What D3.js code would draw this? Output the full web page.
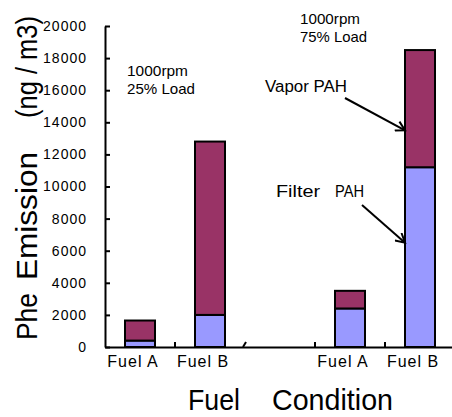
<!DOCTYPE html>
<html>
<head>
<meta charset="utf-8">
<script src="https://cdn.jsdelivr.net/npm/d3@7"></script>
<style>
  body { margin: 0; background: #fff; }
  text { font-family: "Liberation Sans", Arial, sans-serif; fill: #000; }
</style>
</head>
<body>
<svg id="chart" width="452" height="417"></svg>
<script>
// data
const slotIds = ["A25", "B25", "gap", "A75", "B75"]
const slotLabels = ["Fuel A", "Fuel B", "", "Fuel A", "Fuel B"]
const filterPAH = [400, 2000, 0, 2400, 11200]
const vaporPAH = [1250, 10800, 0, 1100, 7300]
const yTicks = [0, 2000, 4000, 6000, 8000, 10000, 12000, 14000, 16000, 18000, 20000]
const seriesKeys = ["filter", "vapor"]
const seriesColors = { filter: "#9999ff", vapor: "#993366" }

let svg = d3.select("#chart")

let x = d3.scaleBand()
    .domain(slotIds)
    .range([105, 455])

let y = d3.scaleLinear()
    .domain([0, 20000])
    .range([347, 26])

let barW = 30

let rows = slotIds.map((id, i) => ({ id: id, filter: filterPAH[i], vapor: vaporPAH[i] }))
let stacked = d3.stack().keys(seriesKeys)(rows)

// bars
svg.append("g")
  .selectAll("g")
  .data(stacked)
  .join("g")
  .style("fill", d => seriesColors[d.key])
  .selectAll("rect")
  .data(d => d.filter(p => p[1] > p[0]))
  .join("rect")
  .attr("x", d => x(d.data.id) + (x.bandwidth() - barW) / 2)
  .attr("y", d => y(d[1]))
  .attr("width", barW)
  .attr("height", d => y(d[0]) - y(d[1]))
  .style("stroke", "#000")
  .style("stroke-width", "2px")

// y axis
let yAxis = svg.append("g")
  .attr("transform", "translate(105,0)")
  .call(d3.axisLeft(y)
    .tickValues(yTicks)
    .tickSizeInner(-5)
    .tickSizeOuter(0)
    .tickPadding(18)
    .tickFormat(d3.format("d")))
yAxis.select(".domain").style("stroke-width", "2px")
yAxis.selectAll(".tick line").style("stroke-width", "2px")
yAxis.selectAll("text")
  .style("font-size", "14px")
  .style("letter-spacing", "1px")
  .style("font-family", "'Liberation Sans', Arial, sans-serif")

// x axis
let xAxis = svg.append("g")
  .attr("transform", `translate(0,${y(0)})`)
  .call(d3.axisBottom(x)
    .tickSize(0)
    .tickSizeOuter(0)
    .tickPadding(9)
    .tickFormat((d, i) => slotLabels[i]))
xAxis.select(".domain").style("stroke-width", "2px")
xAxis.selectAll("text")
  .attr("dx", -7)
  .style("font-size", "16px")
  .style("letter-spacing", "1px")
  .style("font-family", "'Liberation Sans', Arial, sans-serif")

// boundary ticks between slots, the one at the gap is a slash
slotIds.slice(1).forEach(id => {
  let bx = x(id)
  if (id === "gap") {
    svg.append("line")
      .attr("x1", bx - 2).attr("y1", y(0))
      .attr("x2", bx + 1).attr("y2", y(0) - 5)
      .style("stroke", "#000").style("stroke-width", "2px")
  } else {
    svg.append("line")
      .attr("x1", bx).attr("y1", y(0))
      .attr("x2", bx).attr("y2", y(0) - 5)
      .style("stroke", "#000").style("stroke-width", "2px")
  }
})

// text helper: width fixed to match the narrow lettering of the original
function label(parent, str, px, py, size, len) {
  return parent.append("text")
    .attr("x", px)
    .attr("y", py)
    .attr("textLength", len)
    .attr("lengthAdjust", "spacingAndGlyphs")
    .style("font-size", size + "px")
    .text(str)
}

// y axis title
let yTitle = svg.append("g").attr("transform", "translate(37,0) rotate(-90)")
label(yTitle, "Phe", -340, 0, 30, 47)
label(yTitle, "Emission", -280, 0, 30, 128)
label(yTitle, "(ng / m3)", -118, 0, 30, 102)

// x axis title
label(svg, "Fuel", 188, 410, 30, 52)
label(svg, "Condition", 272, 410, 30, 121)

// condition notes
label(svg, "1000rpm", 127, 76, 15, 61)
label(svg, "25% Load", 127, 94, 15, 68)
label(svg, "1000rpm", 300, 24, 15, 60)
label(svg, "75% Load", 300, 42, 15, 67)

// series annotations with arrows
label(svg, "Vapor PAH", 265, 92, 16, 82)
label(svg, "Filter", 276, 197, 16, 44)
label(svg, "PAH", 335, 197, 16, 29)

svg.append("defs").append("marker")
  .attr("id", "arrow")
  .attr("viewBox", "-10 -6 12 12")
  .attr("refX", 0)
  .attr("refY", 0)
  .attr("markerWidth", 12)
  .attr("markerHeight", 12)
  .attr("markerUnits", "userSpaceOnUse")
  .attr("orient", "auto")
  .append("path")
  .attr("d", "M-9,-5 L0,0 L-9,5")
  .style("fill", "none")
  .style("stroke", "#000")
  .style("stroke-width", "2px")

let barLeft = id => x(id) + (x.bandwidth() - barW) / 2
let arrows = [
  { x1: 345, y1: 98, x2: barLeft("B75"), y2: y(13500) },
  { x1: 362, y1: 205, x2: barLeft("B75"), y2: y(6500) }
]
svg.append("g")
  .selectAll("line")
  .data(arrows)
  .join("line")
  .attr("x1", d => d.x1)
  .attr("y1", d => d.y1)
  .attr("x2", d => d.x2)
  .attr("y2", d => d.y2)
  .attr("marker-end", "url(#arrow)")
  .style("stroke", "#000")
  .style("stroke-width", "2px")
</script>
</body>
</html>
